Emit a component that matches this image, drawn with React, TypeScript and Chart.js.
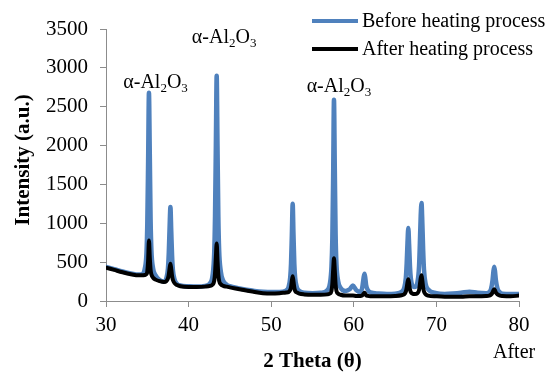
import React, { useEffect, useRef } from "react";
import { Chart, registerables } from "chart.js";

Chart.register(...registerables);

// ---- data ----
const twoTheta = [
  30, 31, 32, 33, 34, 34.4,
  34.7, 34.9, 35.0, 35.1, 35.2, 35.3, 35.4, 35.5, 35.7, 36.0,
  36.5, 37.0,
  37.3, 37.5, 37.6, 37.7, 37.8, 37.9, 38.0, 38.1, 38.3, 38.6,
  39, 40, 41, 42, 42.6,
  42.9, 43.1, 43.2, 43.3, 43.4, 43.5, 43.6, 43.7, 43.9, 44.2,
  44.6, 45, 46, 47, 48, 49, 50, 51, 51.8,
  52.1, 52.3, 52.4, 52.5, 52.6, 52.7, 52.8, 52.9, 53.1, 53.4,
  54, 55, 56, 56.8,
  57.1, 57.3, 57.4, 57.5, 57.6, 57.7, 57.8, 57.9, 58.1, 58.4,
  59, 59.5, 59.9, 60.3, 60.8,
  61.0, 61.1, 61.2, 61.3, 61.4, 61.5, 61.7, 62.0,
  63, 64, 65, 65.8,
  66.1, 66.3, 66.4, 66.5, 66.6, 66.7, 66.8, 66.9, 67.1,
  67.4,
  67.7, 67.9, 68.0, 68.1, 68.2, 68.3, 68.4, 68.5, 68.7, 69.0,
  70, 71, 72, 73, 74, 75, 76, 76.4,
  76.6, 76.8, 76.9, 77.0, 77.1, 77.2, 77.4, 77.7,
  78, 79, 80,
];

const beforeHeating = [
  440, 410, 380, 355, 340, 345,
  420, 620, 1000, 1800, 2680, 1900, 1050, 650, 420, 330,
  270, 250,
  290, 420, 620, 950, 1210, 900, 580, 400, 280, 220,
  200, 190, 185, 195, 230,
  330, 620, 1100, 2000, 2900, 2000, 1100, 650, 380, 260,
  210, 190, 165, 145, 130, 120, 115, 115, 135,
  180, 300, 480, 850, 1250, 850, 480, 300, 180, 130,
  105, 100, 105, 140,
  220, 450, 800, 1600, 2590, 1700, 850, 480, 260, 170,
  130, 150, 200, 140, 115,
  160, 230, 310, 350, 290, 200, 140, 110,
  95, 90, 95, 120,
  170, 300, 480, 750, 940, 720, 450, 300, 200,
  180,
  240, 450, 750, 1100, 1260, 1000, 650, 400, 220, 150,
  100, 90, 95, 105, 120, 105, 100, 115,
  150, 270, 380, 440, 380, 270, 160, 110,
  95, 90, 90,
];

const afterHeating = [
  430, 400, 370, 345, 330, 330,
  335, 345, 380, 520, 780, 560, 400, 340, 300, 275,
  255, 245,
  255, 290, 340, 420, 480, 410, 320, 270, 230, 205,
  190, 180, 180, 185, 195,
  210, 260, 360, 560, 740, 520, 340, 260, 215, 195,
  185, 175, 155, 135, 115, 100, 95, 100, 110,
  115, 140, 180, 260, 320, 250, 170, 130, 110, 95,
  85, 80, 80, 85,
  95, 130, 220, 400, 550, 390, 210, 130, 95, 80,
  70, 70, 70, 65, 65,
  70, 80, 95, 105, 90, 75, 65, 60,
  60, 60, 65, 75,
  85, 120, 170, 240, 280, 220, 150, 115, 95,
  90,
  100, 140, 210, 290, 330, 260, 170, 120, 85, 70,
  60, 55, 55, 55, 60, 60, 65, 70,
  80, 110, 135, 150, 135, 110, 85, 70,
  65, 60, 70,
];

const seriesLabels = ["Before heating process", "After heating process"];
const xTickValues = [30, 40, 50, 60, 70, 80];
const yTickValues = [0, 500, 1000, 1500, 2000, 2500, 3000, 3500];
const xAxisTitle = "2 Theta (\u03b8)";
const yAxisTitle = "Intensity (a.u.)";
const extraNote = "After";

// peak annotation anchors (2θ, intensity at text baseline)
const peakLabelTheta = [36.0, 44.3, 58.2];
const peakLabelIntensity = [2741, 3320, 2689];

const BLUE = "#4F81BD";
const BLACK = "#000000";
const AXIS_GREY = "#8C8C8C";
const FONT = "Liberation Serif";

Chart.defaults.font.family = FONT;

function drawAlumina(ctx: CanvasRenderingContext2D, cx: number, baseline: number) {
  const big = `20px ${FONT}`;
  const small = `13px ${FONT}`;
  const parts: [string, boolean][] = [
    ["\u03b1-Al", false],
    ["2", true],
    ["O", false],
    ["3", true],
  ];
  let total = 0;
  for (const [t, sub] of parts) {
    ctx.font = sub ? small : big;
    total += ctx.measureText(t).width;
  }
  let x = cx - total / 2;
  ctx.textAlign = "left";
  ctx.textBaseline = "alphabetic";
  ctx.fillStyle = "#000";
  for (const [t, sub] of parts) {
    ctx.font = sub ? small : big;
    ctx.fillText(t, x, baseline + (sub ? 4 : 0));
    x += ctx.measureText(t).width;
  }
}

const overlayPlugin = {
  id: "overlay",
  afterDraw(chart: any) {
    const ctx: CanvasRenderingContext2D = chart.ctx;
    const xs = chart.scales.x;
    const ys = chart.scales.y;
    ctx.save();
    for (let i = 0; i < peakLabelTheta.length; i++) {
      drawAlumina(ctx, xs.getPixelForValue(peakLabelTheta[i]), ys.getPixelForValue(peakLabelIntensity[i]));
    }
    const colors = [BLUE, BLACK];
    const widths = [4, 4];
    const rowY = [21, 49];
    for (let i = 0; i < seriesLabels.length; i++) {
      ctx.strokeStyle = colors[i];
      ctx.lineWidth = widths[i];
      ctx.lineCap = "butt";
      ctx.beginPath();
      ctx.moveTo(312, rowY[i]);
      ctx.lineTo(358, rowY[i]);
      ctx.stroke();
      ctx.fillStyle = "#000";
      ctx.font = `20px ${FONT}`;
      ctx.textAlign = "left";
      ctx.textBaseline = "middle";
      ctx.fillText(seriesLabels[i], 362, rowY[i] + 1);
    }
    ctx.fillStyle = "#000";
    ctx.font = `bold 21px ${FONT}`;
    ctx.textAlign = "center";
    ctx.textBaseline = "middle";
    ctx.fillText(xAxisTitle, (xs.left + xs.right) / 2, 362);
    ctx.save();
    ctx.translate(24, 160);
    ctx.rotate(-Math.PI / 2);
    ctx.fillText(yAxisTitle, 0, 0);
    ctx.restore();
    ctx.font = `20px ${FONT}`;
    ctx.textAlign = "left";
    ctx.textBaseline = "alphabetic";
    ctx.fillText(extraNote, 493, 358);
    ctx.restore();
  },
};

export default function App() {
  const canvasRef = useRef<HTMLCanvasElement | null>(null);

  useEffect(() => {
    document.body.style.margin = "0";
    const canvas = canvasRef.current;
    if (!canvas) return;
    const chart = new Chart(canvas, {
      type: "line",
      data: {
        datasets: [
          {
            label: seriesLabels[1],
            data: twoTheta.map((t, i) => ({ x: t, y: afterHeating[i] })),
            borderColor: BLACK,
            borderWidth: 4,
            pointRadius: 0,
            cubicInterpolationMode: "monotone",
            borderJoinStyle: "round",
            borderCapStyle: "round",
            fill: false,
          },
          {
            label: seriesLabels[0],
            data: twoTheta.map((t, i) => ({ x: t, y: beforeHeating[i] })),
            borderColor: BLUE,
            borderWidth: 4.5,
            pointRadius: 0,
            cubicInterpolationMode: "monotone",
            borderJoinStyle: "round",
            borderCapStyle: "round",
            fill: false,
          },
        ],
      },
      options: {
        animation: false,
        responsive: true,
        maintainAspectRatio: false,
        layout: { padding: { top: 29, right: 32, left: 0, bottom: 0 } },
        plugins: { legend: { display: false }, tooltip: { enabled: false } },
        scales: {
          x: {
            type: "linear",
            min: 30,
            max: 80,
            afterBuildTicks: (scale: any) => {
              scale.ticks = xTickValues.map((v) => ({ value: v }));
            },
            afterFit: (scale: any) => {
              scale.height = 73;
            },
            grid: {
              display: true,
              drawOnChartArea: false,
              drawTicks: true,
              tickLength: 6,
              color: AXIS_GREY,
            },
            border: { display: true, color: AXIS_GREY, width: 1 },
            ticks: {
              color: "#000",
              font: { family: FONT, size: 21 },
              padding: 6,
              maxRotation: 0,
              autoSkip: false,
              callback: (v: any) => String(v),
            },
          },
          y: {
            type: "linear",
            min: 0,
            max: 3500,
            afterBuildTicks: (scale: any) => {
              scale.ticks = yTickValues.map((v) => ({ value: v }));
            },
            afterFit: (scale: any) => {
              scale.width = 106;
            },
            grid: {
              display: true,
              drawOnChartArea: false,
              drawTicks: true,
              tickLength: 6,
              color: AXIS_GREY,
            },
            border: { display: true, color: AXIS_GREY, width: 1 },
            ticks: {
              color: "#000",
              font: { family: FONT, size: 21 },
              padding: 12,
              autoSkip: false,
              callback: (v: any) => String(v),
            },
          },
        },
      },
      plugins: [overlayPlugin],
    });
    return () => chart.destroy();
  }, []);

  return (
    <div style={{ position: "relative", width: 551, height: 374, background: "#fff" }}>
      <canvas ref={canvasRef} />
    </div>
  );
}
